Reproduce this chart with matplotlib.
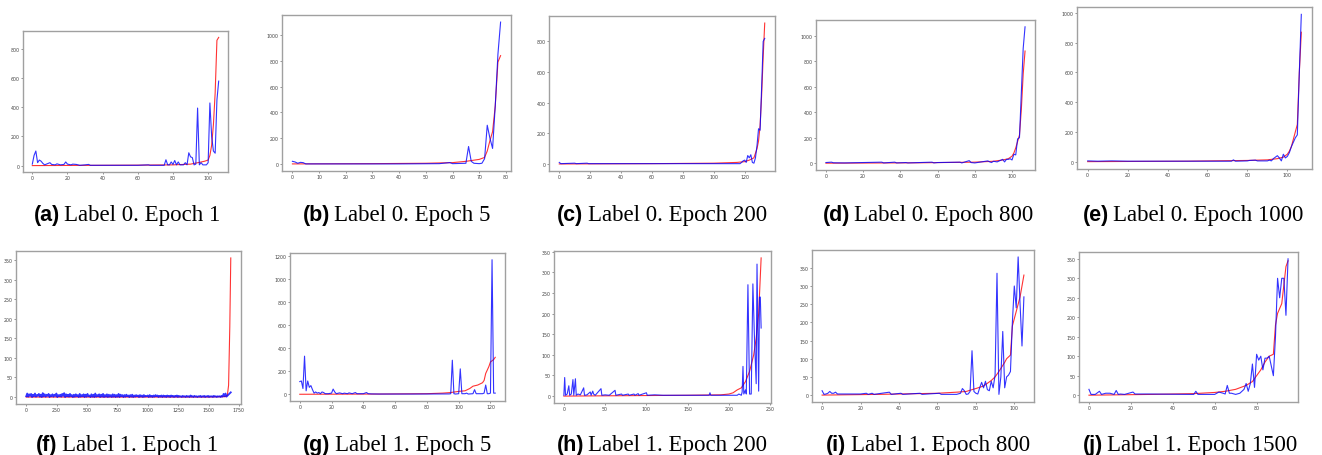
import numpy as np
import matplotlib
matplotlib.use('Agg')
import matplotlib.pyplot as plt

# ---- data (x index, value) ----
# (a) Label 0. Epoch 1
a_red_x = [0, 20, 40, 60, 80, 90, 95, 98, 100, 101, 102, 103, 104, 105, 106]
a_red_y = [0, 1, 2, 3, 5, 10, 22, 30, 38, 70, 140, 280, 500, 860, 880]
a_blue_x = [0, 1, 2, 3, 4, 5, 6, 7, 8, 10, 11, 13, 14, 16, 18, 19, 20, 22, 23, 25, 27, 30, 32, 33, 40,
            50, 60, 66, 67, 75, 76, 77, 78, 79, 80, 81, 82, 83, 84, 86, 87, 88, 89, 90, 91, 92, 93, 94,
            95, 96, 97, 98, 99, 100, 101, 102, 103, 104, 105, 106]
a_blue_y = [10, 70, 100, 20, 38, 30, 15, 5, 10, 20, 8, 5, 12, 5, 8, 25, 10, 5, 10, 8, 2, 5, 8, 2, 2,
            2, 2, 5, 2, 2, 40, 5, 5, 25, 8, 35, 5, 25, 5, 5, 20, 5, 88, 60, 55, 5, 10, 395,
            5, 20, 5, 5, 5, 20, 430, 200, 100, 85, 450, 580]

# (b) Label 0. Epoch 5
b_red_x = [0, 30, 50, 60, 65, 70, 72, 73, 74, 75, 76, 77, 78]
b_red_y = [0, 2, 5, 10, 20, 35, 50, 100, 180, 250, 450, 790, 840]
b_blue_x = [0, 1, 2, 3, 4, 5, 20, 40, 55, 58, 59, 60, 65, 66, 67, 68, 70, 71, 72, 73, 74, 75, 76, 77, 78]
b_blue_y = [20, 15, 5, 12, 10, 0, 0, 0, 2, 8, 10, 2, 5, 135, 20, 5, 2, 5, 40, 300, 200, 120, 450, 850, 1100]

# (c) Label 0. Epoch 200
c_red_x = [0, 60, 100, 115, 120, 123, 126, 128, 129, 130, 131, 132, 133]
c_red_y = [0, 2, 5, 10, 15, 25, 40, 100, 150, 250, 450, 700, 920]
c_blue_x = [0, 1, 10, 11, 18, 19, 40, 60, 80, 100, 110, 117, 118, 119, 120, 121, 122, 123, 124, 125,
            126, 127, 128, 129, 130, 131, 132, 133]
c_blue_y = [10, 2, 5, 2, 5, 2, 2, 2, 2, 2, 2, 2, 10, 20, 25, 10, 55, 40, 60, 10,
            5, 40, 120, 230, 220, 500, 800, 820]

# (d) Label 0. Epoch 800
d_red_x = [0, 50, 80, 90, 95, 98, 100, 101, 102, 103, 104, 105, 106, 107]
d_red_y = [0, 3, 8, 15, 25, 35, 55, 80, 120, 170, 220, 420, 700, 880]
d_blue_x = [0, 3, 4, 10, 30, 31, 37, 38, 43, 44, 57, 58, 60, 72, 73, 77, 78, 80, 87, 88, 89, 90, 92,
            95, 96, 97, 98, 99, 100, 101, 102, 103, 104, 105, 106, 107]
d_blue_y = [5, 8, 3, 2, 8, 2, 8, 2, 5, 2, 8, 2, 5, 8, 2, 20, 5, 2, 18, 10, 5, 15, 10,
            30, 10, 30, 30, 35, 25, 70, 65, 190, 200, 550, 900, 1070]

# (e) Label 0. Epoch 1000
e_red_x = [0, 50, 80, 90, 95, 98, 100, 101, 102, 103, 104, 105, 106, 107]
e_red_y = [0, 3, 8, 12, 20, 30, 50, 70, 100, 150, 200, 250, 600, 870]
e_blue_x = [0, 5, 12, 20, 40, 72, 73, 74, 80, 81, 84, 85, 90, 91, 92, 93, 94, 95, 96, 97, 98, 99,
            100, 101, 102, 103, 104, 105, 106, 107]
e_blue_y = [5, 3, 5, 3, 3, 3, 12, 3, 5, 8, 10, 5, 5, 10, 5, 20, 30, 40, 25, 5, 50, 25,
            35, 60, 100, 130, 160, 180, 600, 990]

# (f) Label 1. Epoch 1 (blue sampled every 8 steps)
f_red_x = [0, 800, 1500, 1640, 1655, 1665, 1675, 1683]
f_red_y = [0, 0, 0, 1, 5, 30, 180, 355]
f_blue_step = 8
f_blue_y = [2, 9, 1, 7, 3, 8, 0, 6, 2, 9, 1, 5, 3, 8, 1, 6, 0, 10, 2, 7,
            1, 6, 3, 8, 0, 5, 2, 7, 1, 6, 3, 9, 0, 5, 2, 6, 1, 8, 3, 10,
            0, 7, 2, 6, 1, 8, 2, 5, 0, 6, 1, 7, 2, 5, 0, 8, 1, 5, 2, 7,
            0, 6, 1, 8, 2, 4, 0, 7, 1, 6, 0, 9, 1, 5, 2, 7, 0, 6, 1, 8,
            0, 5, 1, 7, 0, 6, 1, 5, 0, 7, 1, 6, 0, 5, 1, 8, 0, 6, 2, 5,
            0, 5, 1, 6, 2, 4, 0, 5, 1, 6, 0, 4, 1, 5, 2, 4, 0, 5, 1, 4,
            0, 5, 1, 3, 2, 4, 0, 5, 1, 3, 0, 4, 1, 5, 2, 4, 0, 3, 1, 4,
            0, 4, 1, 3, 0, 4, 1, 3, 0, 4, 1, 3, 0, 3, 1, 4, 0, 3, 1, 2,
            0, 3, 1, 2, 0, 3, 1, 2, 0, 4, 1, 2, 0, 3, 1, 2, 0, 2, 1, 3,
            0, 2, 1, 3, 0, 2, 1, 3, 0, 2, 1, 2, 0, 3, 1, 2, 0, 2, 1, 2,
            0, 3, 1, 8, 2, 9, 1, 12]

# (g) Label 1. Epoch 5
g_red_x = [0, 50, 80, 90, 95, 100, 104, 107, 109, 112, 115, 116, 117, 119, 120, 122, 123]
g_red_y = [0, 2, 5, 10, 15, 25, 30, 50, 70, 80, 100, 120, 180, 240, 280, 300, 320]
g_blue_x = [0, 1, 2, 3, 4, 5, 6, 7, 8, 9, 10, 11, 12, 13, 14, 15, 16, 18, 20, 21, 22, 23, 25, 27, 28,
            30, 31, 33, 35, 36, 38, 40, 42, 43, 45, 50, 70, 94, 95, 96, 97, 98, 100, 101, 102, 104,
            105, 106, 109, 110, 111, 115, 116, 117, 118, 119, 120, 121, 122, 123]
g_blue_y = [110, 115, 50, 330, 30, 115, 60, 75, 40, 10, 20, 10, 15, 5, 20, 15, 5, 5, 10, 45, 20, 5, 12, 5, 10,
            5, 12, 5, 15, 5, 5, 5, 15, 5, 3, 2, 2, 3, 5, 295, 5, 2, 5, 220, 5, 5,
            10, 2, 5, 40, 5, 5, 10, 80, 5, 5, 10, 1165, 10, 10]

# (h) Label 1. Epoch 200
h_red_x = [0, 150, 190, 200, 205, 210, 215, 220, 225, 230, 233, 236, 239]
h_red_y = [0, 2, 3, 5, 8, 15, 20, 35, 60, 100, 140, 200, 335]
h_blue_x = [0, 1, 2, 4, 6, 7, 9, 11, 12, 14, 15, 17, 20, 24, 25, 28, 32, 33, 35, 36, 38, 45, 46, 50,
            55, 62, 63, 70, 71, 78, 79, 85, 86, 90, 91, 100, 101, 110, 120, 140, 160, 176, 177, 178,
            200, 210, 212, 215, 216, 217, 218, 220, 221, 223, 225, 227, 229, 231, 233, 234, 236, 237,
            238, 239]
h_blue_y = [2, 45, 2, 5, 25, 2, 5, 40, 2, 42, 2, 5, 3, 20, 2, 3, 10, 2, 12, 5, 2, 18, 2, 3,
            2, 14, 2, 5, 2, 5, 2, 5, 2, 6, 2, 8, 2, 3, 2, 2, 2, 2, 8, 2,
            2, 2, 5, 2, 10, 72, 5, 15, 5, 270, 5, 5, 272, 135, 30, 320, 12, 240,
            240, 165]

# (i) Label 1. Epoch 800
i_red_x = [0, 30, 60, 70, 75, 78, 80, 84, 88, 90, 92, 95, 96, 98, 99, 101, 103, 105]
i_red_y = [0, 2, 5, 8, 10, 15, 18, 25, 40, 50, 65, 90, 100, 110, 190, 230, 270, 330]
i_blue_x = [0, 1, 2, 3, 4, 5, 6, 7, 8, 10, 20, 23, 24, 26, 27, 35, 36, 41, 42, 51, 52, 61, 62, 70,
            72, 73, 74, 75, 76, 77, 78, 79, 80, 81, 82, 83, 84, 85, 86, 87, 88, 89, 90, 91, 92, 93,
            94, 95, 96, 97, 98, 99, 100, 101, 102, 103, 104, 105]
i_blue_y = [12, 2, 3, 5, 10, 5, 5, 8, 3, 3, 3, 5, 2, 5, 2, 8, 2, 5, 2, 5, 2, 5, 2, 2,
            5, 18, 12, 2, 3, 10, 122, 10, 5, 3, 20, 35, 20, 38, 15, 12, 38, 20, 55, 335, 2, 50,
            175, 20, 50, 55, 65, 200, 300, 240, 380, 250, 135, 270]

# (j) Label 1. Epoch 1500
j_red_x = [0, 30, 50, 60, 65, 70, 75, 78, 80, 82, 84, 86, 88, 89, 90, 92, 94, 95]
j_red_y = [0, 2, 4, 7, 10, 15, 25, 35, 50, 65, 85, 100, 105, 180, 210, 235, 330, 345]
j_blue_x = [0, 1, 3, 5, 6, 8, 10, 12, 13, 14, 15, 17, 21, 22, 28, 50, 51, 52, 60, 62, 64, 65, 66,
            67, 68, 70, 72, 74, 75, 76, 77, 78, 79, 80, 81, 82, 83, 84, 85, 86, 87, 88, 89, 90, 91,
            92, 93, 94, 95]
j_blue_y = [15, 2, 2, 10, 2, 5, 5, 2, 12, 2, 3, 2, 8, 3, 3, 2, 10, 2, 2, 8, 5, 3, 25,
            5, 5, 2, 5, 15, 30, 10, 30, 80, 20, 105, 90, 100, 65, 95, 95, 100, 75, 50, 150, 300, 250,
            300, 300, 205, 350]

f_blue_x = np.arange(len(f_blue_y)) * f_blue_step
f_blue_x[-1] = 1683

panels = [
    ('a', 'Label 0. Epoch 1', a_red_x, a_red_y, a_blue_x, a_blue_y, (23, 228, 32, 173), 127, 221),
    ('b', 'Label 0. Epoch 5', b_red_x, b_red_y, b_blue_x, b_blue_y, (282, 511, 16, 172), 397, 221),
    ('c', 'Label 0. Epoch 200', c_red_x, c_red_y, c_blue_x, c_blue_y, (549, 775, 17, 172), 662, 221),
    ('d', 'Label 0. Epoch 800', d_red_x, d_red_y, d_blue_x, d_blue_y, (816, 1035, 21, 171), 928, 221),
    ('e', 'Label 0. Epoch 1000', e_red_x, e_red_y, e_blue_x, e_blue_y, (1077, 1312, 8, 170), 1193, 221),
    ('f', 'Label 1. Epoch 1', f_red_x, f_red_y, f_blue_x, f_blue_y, (16, 241, 252, 405), 127, 451),
    ('g', 'Label 1. Epoch 5', g_red_x, g_red_y, g_blue_x, g_blue_y, (290, 505, 254, 402), 397, 451),
    ('h', 'Label 1. Epoch 200', h_red_x, h_red_y, h_blue_x, h_blue_y, (554, 771, 252, 404), 662, 451),
    ('i', 'Label 1. Epoch 800', i_red_x, i_red_y, i_blue_x, i_blue_y, (812, 1034, 251, 403), 928, 451),
    ('j', 'Label 1. Epoch 1500', j_red_x, j_red_y, j_blue_x, j_blue_y, (1079, 1298, 253, 403), 1190, 451),
]

W, H = 1322, 456
fig = plt.figure(figsize=(W / 100, H / 100), dpi=100)
renderer = fig.canvas.get_renderer()

for tag, caption, rx, ry, bx, by, box, cx, cy in panels:
    l, r, t, b = box
    ax = fig.add_axes([l / W, 1 - b / H, (r - l) / W, (b - t) / H])
    # the dense epoch-1 trace reads as a thick band in the reference
    blue_lw = 1.3 if tag == 'f' else 0.8
    ax.plot(rx, ry, color='red', lw=0.8, alpha=0.8)
    ax.plot(bx, by, color='blue', lw=blue_lw, alpha=0.8)
    ax.tick_params(labelsize=3.4, length=1.5, width=0.4, pad=1, colors='#444444')
    for s in ax.spines.values():
        s.set_color('#a0a0a0')
        s.set_linewidth(1.0)

    # caption: bold sans tag + serif text, centred on cx, baseline at cy
    t1 = fig.text(0, 0, f'({tag})', fontsize=15.5, fontweight='bold',
                  family=['Liberation Sans', 'DejaVu Sans'], va='baseline')
    t2 = fig.text(0, 0, caption, fontsize=16.5,
                  family=['Liberation Serif', 'DejaVu Serif'], va='baseline')
    w1 = t1.get_window_extent(renderer).width
    w2 = t2.get_window_extent(renderer).width
    gap = 4
    x0 = cx - (w1 + gap + w2) / 2
    t1.set_position((x0 / W, 1 - cy / H))
    t2.set_position(((x0 + w1 + gap) / W, 1 - cy / H))

fig.savefig('out.png', dpi=100)
